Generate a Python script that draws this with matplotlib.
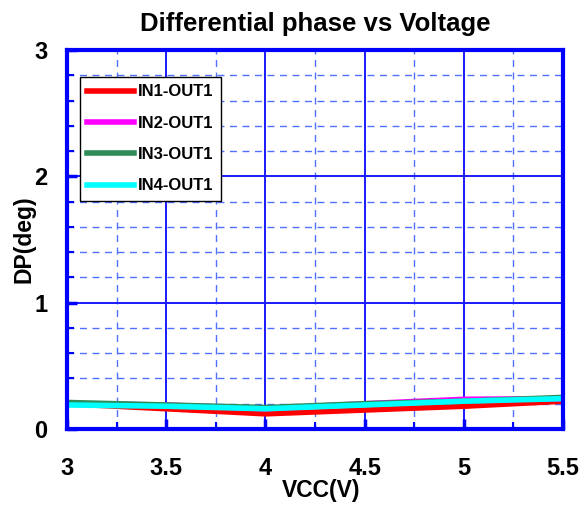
import matplotlib
matplotlib.use("Agg")
import matplotlib.pyplot as plt
from matplotlib.ticker import MultipleLocator, FuncFormatter

plt.rcParams['font.family'] = ['Liberation Sans', 'DejaVu Sans']

vcc = [3.0, 3.5, 4.0, 4.5, 5.0, 5.5]
in1_out1 = [0.20, 0.16, 0.12, 0.15, 0.18, 0.22]
in2_out1 = [0.20, 0.19, 0.16, 0.20, 0.235, 0.24]
in3_out1 = [0.21, 0.19, 0.17, 0.20, 0.22, 0.25]
in4_out1 = [0.19, 0.18, 0.16, 0.19, 0.22, 0.24]
series_names = ['IN1-OUT1', 'IN2-OUT1', 'IN3-OUT1', 'IN4-OUT1']
colors = ['#ff0000', '#ff00ff', '#2e8b57', '#00ffff']

fig = plt.figure(figsize=(5.84, 5.14), dpi=100)
ax = fig.add_axes([0.1147, 0.1654, 0.964 - 0.1147, 0.9027 - 0.1654])

for ys, name, c in zip([in1_out1, in2_out1, in3_out1, in4_out1], series_names, colors):
    ax.plot(vcc, ys, color=c, lw=4, label=name, solid_joinstyle='miter')

ax.set_xlim(3, 5.5)
ax.set_ylim(0, 3)
ax.xaxis.set_major_locator(MultipleLocator(0.5))
ax.xaxis.set_minor_locator(MultipleLocator(0.25))
ax.yaxis.set_major_locator(MultipleLocator(1))
ax.yaxis.set_minor_locator(MultipleLocator(0.2))
ax.xaxis.set_major_formatter(FuncFormatter(lambda v, p: f"{v:g}"))
ax.yaxis.set_major_formatter(FuncFormatter(lambda v, p: f"{v:g}"))

ax.grid(which='major', color='#1a1aff', lw=1.4, ls='-')
ax.grid(which='minor', color='#5070ff', lw=1.0, ls=(0, (5, 4)))
ax.set_axisbelow(True)

for s in ax.spines.values():
    s.set_color('#0000ff')
    s.set_linewidth(3)

ax.tick_params(which='major', direction='in', color='#0000ff', length=7, width=2.5,
               labelsize=17)
ax.tick_params(axis='x', which='major', pad=20)
ax.tick_params(axis='y', which='major', pad=14)
ax.tick_params(which='minor', direction='in', color='#0000ff', length=5, width=1.5)
for lab in ax.get_xticklabels() + ax.get_yticklabels():
    lab.set_fontweight('bold')

ax.set_xlabel('VCC(V)', fontsize=16.5, fontweight='bold', labelpad=0)
ax.set_ylabel('DP(deg)', fontsize=16.5, fontweight='bold')
ax.yaxis.set_label_coords(-0.063, 0.5)
ax.xaxis.set_label_coords(0.512, -0.131)
ax.set_title('Differential phase vs Voltage', fontsize=18.5, fontweight='bold', pad=14)

leg = ax.legend(loc='upper left', bbox_to_anchor=(0.026, 0.929), borderaxespad=0,
                fancybox=False, edgecolor='black', framealpha=1,
                prop={'weight': 'bold', 'size': 12}, handlelength=2.8,
                labelspacing=0.98, handletextpad=0.25, borderpad=0.45)
leg.get_frame().set_linewidth(1.0)
for l in leg.get_lines():
    l.set_linewidth(4)

fig.savefig('out.png', dpi=100)
